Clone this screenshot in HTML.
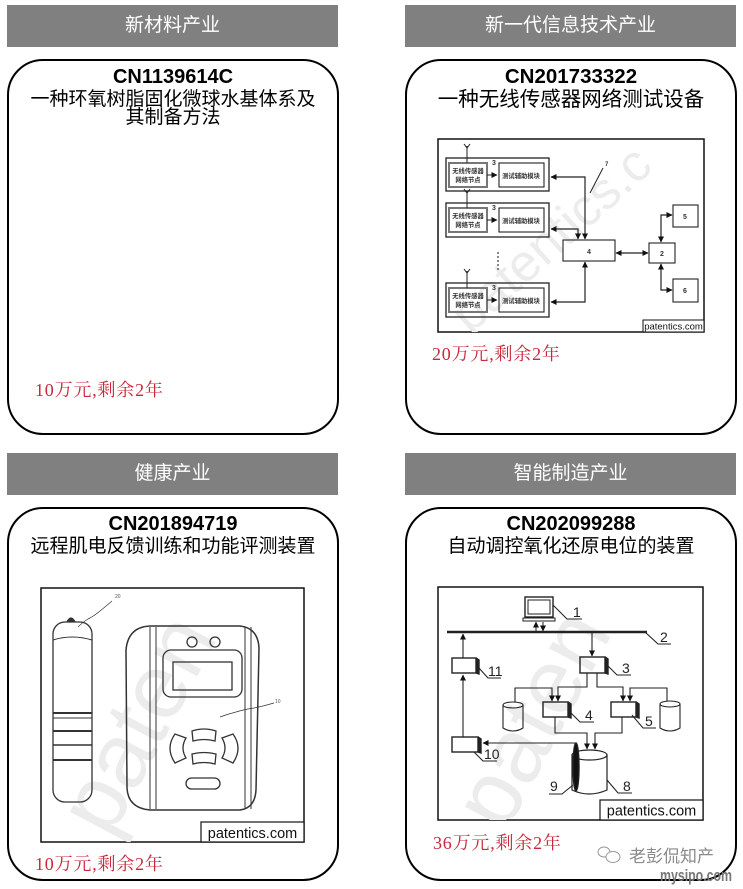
<!DOCTYPE html>
<html><head><meta charset="utf-8">
<style>
html,body{margin:0;padding:0;background:#fff;}
body{width:743px;height:889px;position:relative;overflow:hidden;font-family:"Liberation Sans","Noto Sans CJK SC",sans-serif;}
.hd{position:absolute;height:42px;width:331px;background:#808080;color:#fff;font-size:19px;line-height:42px;text-align:center;font-family:"Liberation Sans","Noto Sans CJK SC",sans-serif;}
.card{position:absolute;width:328px;border:2px solid #000;border-radius:36px;background:#fff;box-sizing:content-box;}
.cn{position:absolute;width:332px;text-align:center;font-weight:bold;font-size:20px;line-height:22px;color:#000;font-family:"Liberation Sans","Noto Sans CJK SC",sans-serif;}
.tt{position:absolute;width:332px;text-align:center;font-size:19px;line-height:18px;color:#000;font-family:"Liberation Sans","Noto Sans CJK SC",sans-serif;}
.pr{position:absolute;font-size:18px;line-height:20px;color:#c8283c;letter-spacing:0.8px;font-family:"Liberation Serif","Noto Serif CJK SC",serif;}
svg{position:absolute;left:0;top:0;}
</style></head><body>

<div class="hd" style="left:7px;top:5px;">新材料产业</div>
<div class="hd" style="left:405px;top:5px;">新一代信息技术产业</div>
<div class="hd" style="left:7px;top:453px;">健康产业</div>
<div class="hd" style="left:405px;top:453px;">智能制造产业</div>

<div class="card" style="left:7px;top:59px;height:372px;"></div>
<div class="card" style="left:405px;top:59px;height:372px;"></div>
<div class="card" style="left:7px;top:507px;height:370px;"></div>
<div class="card" style="left:405px;top:507px;height:370px;"></div>

<div class="cn" style="left:7px;top:66px;">CN1139614C</div>
<div class="tt" style="left:7px;top:91px;">一种环氧树脂固化微球水基体系及<br>其制备方法</div>
<div class="pr" style="left:35px;top:380px;">10万元,剩余2年</div>

<div class="cn" style="left:405px;top:66px;font-size:20.5px;">CN201733322</div>
<div class="tt" style="left:405px;top:90px;font-size:20.5px;line-height:20px;">一种无线传感器网络测试设备</div>
<div class="pr" style="left:432px;top:344px;">20万元,剩余2年</div>

<div class="cn" style="left:7px;top:513px;">CN201894719</div>
<div class="tt" style="left:7px;top:538px;">远程肌电反馈训练和功能评测装置</div>
<div class="pr" style="left:35px;top:854px;">10万元,剩余2年</div>

<div class="cn" style="left:405px;top:513px;">CN202099288</div>
<div class="tt" style="left:405px;top:538px;">自动调控氧化还原电位的装置</div>
<div class="pr" style="left:433px;top:833px;">36万元,剩余2年</div>

<svg width="743" height="889" viewBox="0 0 743 889" xmlns="http://www.w3.org/2000/svg">
<defs>
<marker id="ar" markerWidth="6" markerHeight="6" refX="5.5" refY="3" orient="auto-start-reverse" markerUnits="userSpaceOnUse"><path d="M0,0 L6,3 L0,6 z" fill="#111"/></marker>
<clipPath id="c1"><rect x="438" y="139" width="266" height="193"/></clipPath>
<clipPath id="c2"><rect x="41" y="588" width="263" height="254"/></clipPath>
<clipPath id="c3"><rect x="438" y="587" width="265" height="233"/></clipPath>
</defs>

<!-- ===== Top-right diagram ===== -->
<rect x="438" y="139" width="266" height="193" fill="#fff" stroke="#111" stroke-width="1.5"/>
<g clip-path="url(#c1)">
<text x="0" y="0" transform="translate(470,335) rotate(-42)" font-size="52" font-family="Liberation Sans, sans-serif" fill="#ececec">patentics.c</text>
</g>
<g font-family="Liberation Sans, Noto Sans CJK SC, sans-serif" fill="none" stroke="#222">
  <rect x="446" y="158" width="103" height="33" stroke-width="1.3"/>
  <rect x="449" y="163" width="38" height="24" stroke="#777" stroke-width="2"/>
  <rect x="499" y="163" width="45" height="24" stroke-width="1.1"/>
  <line x1="467" y1="146" x2="467" y2="163" stroke-width="1"/>
  <path d="M464,144 L467,148 L470,144" stroke-width="1"/>
  <line x1="487" y1="175" x2="497" y2="175" stroke-width="1" marker-end="url(#ar)"/>
  <rect x="446" y="203" width="103" height="34" stroke-width="1.3"/>
  <rect x="449" y="208" width="38" height="24" stroke="#777" stroke-width="2"/>
  <rect x="499" y="208" width="45" height="24" stroke-width="1.1"/>
  <line x1="467" y1="191" x2="467" y2="208" stroke-width="1"/>
  <path d="M464,189 L467,193 L470,189" stroke-width="1"/>
  <line x1="487" y1="220" x2="497" y2="220" stroke-width="1" marker-end="url(#ar)"/>
  <rect x="446" y="283" width="103" height="34" stroke-width="1.3"/>
  <rect x="449" y="288" width="38" height="24" stroke="#777" stroke-width="2"/>
  <rect x="499" y="288" width="45" height="24" stroke-width="1.1"/>
  <line x1="467" y1="271" x2="467" y2="288" stroke-width="1"/>
  <path d="M464,269 L467,273 L470,269" stroke-width="1"/>
  <line x1="487" y1="300" x2="497" y2="300" stroke-width="1" marker-end="url(#ar)"/>
  <rect x="563" y="240" width="52" height="21" stroke-width="1.1"/>
  <rect x="649" y="243" width="26" height="20" stroke-width="1.1"/>
  <rect x="673" y="205" width="25" height="22" stroke-width="1.1"/>
  <rect x="673" y="279" width="25" height="23" stroke-width="1.1"/>
  <polyline points="551,177 585,177 585,239" stroke-width="1.2" marker-start="url(#ar)" marker-end="url(#ar)"/>
  <polyline points="551,229 578,229 578,239" stroke-width="1.2" marker-start="url(#ar)" marker-end="url(#ar)"/>
  <polyline points="551,302 585,302 585,262" stroke-width="1.2" marker-start="url(#ar)" marker-end="url(#ar)"/>
  <line x1="616" y1="253" x2="648" y2="253" stroke-width="1.2" marker-start="url(#ar)" marker-end="url(#ar)"/>
  <polyline points="661,242 661,215 672,215" stroke-width="1.2" marker-start="url(#ar)" marker-end="url(#ar)"/>
  <polyline points="661,264 661,290 672,290" stroke-width="1.2" marker-start="url(#ar)" marker-end="url(#ar)"/>
  <line x1="603" y1="168" x2="590" y2="193" stroke-width="1"/>
</g>
<g fill="#333" font-family="Liberation Sans, Noto Sans CJK SC, sans-serif" font-weight="bold">
  <text x="468" y="173" font-size="6.3" text-anchor="middle">无线传感器</text>
  <text x="468" y="182" font-size="6.3" text-anchor="middle">网络节点</text>
  <text x="521" y="178" font-size="6.3" text-anchor="middle">测试辅助模块</text>
  <text x="468" y="218" font-size="6.3" text-anchor="middle">无线传感器</text>
  <text x="468" y="227" font-size="6.3" text-anchor="middle">网络节点</text>
  <text x="521" y="223" font-size="6.3" text-anchor="middle">测试辅助模块</text>
  <text x="468" y="298" font-size="6.3" text-anchor="middle">无线传感器</text>
  <text x="468" y="307" font-size="6.3" text-anchor="middle">网络节点</text>
  <text x="521" y="303" font-size="6.3" text-anchor="middle">测试辅助模块</text>
  <text x="492" y="165" font-size="7">3</text>
  <text x="492" y="210" font-size="7">3</text>
  <text x="492" y="290" font-size="7">3</text>
  <text x="589" y="254" font-size="7" text-anchor="middle">4</text>
  <text x="662" y="256" font-size="7" text-anchor="middle">2</text>
  <text x="685" y="219" font-size="7" text-anchor="middle">5</text>
  <text x="685" y="293" font-size="7" text-anchor="middle">6</text>
  <text x="605" y="166" font-size="6">7</text>
</g>
<g fill="#333">
  <circle cx="498" cy="253" r="0.9"/><circle cx="498" cy="257" r="0.9"/><circle cx="498" cy="261" r="0.9"/><circle cx="498" cy="265" r="0.9"/><circle cx="498" cy="269" r="0.9"/>
</g>
<rect x="643" y="320" width="61" height="12" fill="#fff" stroke="#111" stroke-width="1"/>
<text x="673.5" y="329.5" font-size="9.5" text-anchor="middle" font-family="Liberation Sans, sans-serif" fill="#111">patentics.com</text>

<!-- ===== Bottom-left diagram ===== -->
<rect x="41" y="588" width="263" height="254" fill="#fff" stroke="#111" stroke-width="1.5"/>
<g clip-path="url(#c2)">
<text x="0" y="0" transform="translate(110,840) rotate(-62)" font-size="92" font-family="Liberation Sans, sans-serif" fill="#ececec">paten</text>
</g>
<g fill="none" stroke="#333" stroke-width="1.3">
  <rect x="53" y="622" width="39" height="180" rx="12"/>
  <path d="M53,640 Q72,634 92,640" stroke-width="1"/>
  <line x1="53" y1="713" x2="92" y2="713" stroke-width="2"/>
  <line x1="53" y1="718" x2="92" y2="718" stroke-width="1"/>
  <line x1="53" y1="731" x2="92" y2="731" stroke-width="2"/>
  <line x1="53" y1="745" x2="92" y2="745" stroke-width="1.5"/>
  <line x1="53" y1="760" x2="92" y2="760" stroke-width="2"/>
  <path d="M67,622 Q71,614 75,622" fill="#333"/>
  <path d="M78,627 q5,-5 10,-8 q6,-3 12,-8 q5,-4 12,-10" stroke-width="0.7"/>
  <path d="M150,626 L240,626 Q258,628 259,648 L256,790 Q255,808 240,810 L150,810 Q128,808 127,788 L126,650 Q128,627 150,626 Z" stroke-width="1.5"/>
  <line x1="150" y1="627" x2="150" y2="809" stroke-width="1"/>
  <line x1="156" y1="627" x2="156" y2="809" stroke-width="1"/>
  <line x1="245" y1="627" x2="245" y2="809" stroke-width="1"/>
  <line x1="251" y1="627" x2="251" y2="809" stroke-width="1"/>
  <circle cx="192" cy="642" r="5"/>
  <circle cx="215" cy="642" r="5"/>
  <rect x="163" y="650" width="79" height="47" rx="8"/>
  <rect x="173" y="662" width="59" height="28"/>
  <path d="M192,731 Q204,727 216,731 L215,741 Q204,738 193,741 Z"/>
  <path d="M192,754 Q204,751 216,754 L215,764 Q204,761 193,764 Z"/>
  <path d="M175,734 Q165,748 175,763 L186,758 Q180,748 186,738 Z"/>
  <path d="M233,734 Q243,748 233,763 L222,758 Q228,748 222,738 Z"/>
  <rect x="186" y="778" width="34" height="11" rx="5.5"/>
  <path d="M220,717 q8,-3 16,-5 q10,-3 18,-4 q10,-2 20,-5" stroke-width="0.7"/>
</g>
<text x="115" y="598" font-size="5" fill="#555" font-family="Liberation Sans, sans-serif">20</text>
<text x="275" y="703" font-size="5" fill="#555" font-family="Liberation Sans, sans-serif">10</text>
<rect x="201" y="822" width="103" height="20" fill="#fff" stroke="#111" stroke-width="1.2"/>
<text x="252.5" y="838" font-size="14.5" text-anchor="middle" font-family="Liberation Sans, sans-serif" fill="#111">patentics.com</text>

<!-- ===== Bottom-right diagram ===== -->
<rect x="438" y="587" width="265" height="233" fill="#fff" stroke="#111" stroke-width="1.5"/>
<g clip-path="url(#c3)">
<text x="0" y="0" transform="translate(505,835) rotate(-62)" font-size="92" font-family="Liberation Sans, sans-serif" fill="#ececec">paten</text>
</g>
<g fill="none" stroke="#222" stroke-width="1.4">
  <rect x="525" y="597" width="28" height="20"/>
  <rect x="528" y="600" width="22" height="14" stroke-width="1"/>
  <rect x="523" y="618" width="32" height="3" stroke-width="1"/>
  <path d="M553,605 L567,619 L582,619" stroke-width="1.1"/>
  <line x1="536" y1="631" x2="536" y2="622" stroke-width="1" marker-end="url(#ar)"/>
  <line x1="543" y1="622" x2="543" y2="631" stroke-width="1" marker-end="url(#ar)"/>
  <line x1="447" y1="632" x2="647" y2="632" stroke-width="2.5"/>
  <path d="M645,632 L658,644 L671,644" stroke-width="1.1"/>
  <rect x="452" y="658" width="24" height="15"/>
  <path d="M476,658 L479,660 L479,674 L476,673" fill="#222"/>
  <path d="M478,667 L488,678 L501,678" stroke-width="1.1"/>
  <line x1="463" y1="658" x2="463" y2="634" stroke-width="1.1" marker-end="url(#ar)"/>
  <rect x="452" y="737" width="26" height="15"/>
  <path d="M478,737 L481,739 L481,753 L478,752" fill="#222"/>
  <path d="M474,752 L483,761 L497,761" stroke-width="1.1"/>
  <line x1="463" y1="737" x2="463" y2="675" stroke-width="1.1" marker-end="url(#ar)"/>
  <line x1="576" y1="743" x2="483" y2="743" stroke-width="1.1" marker-end="url(#ar)"/>
  <rect x="580" y="657" width="25" height="16"/>
  <path d="M605,657 L608,659 L608,674 L605,673" fill="#222"/>
  <line x1="592" y1="632" x2="592" y2="656" stroke-width="1.1" marker-end="url(#ar)"/>
  <path d="M606,664 L617,675 L631,675" stroke-width="1.1"/>
  <polyline points="587,673 587,687 558,687 558,701" stroke-width="1.1" marker-end="url(#ar)"/>
  <polyline points="597,673 597,687 623,687 623,701" stroke-width="1.1" marker-end="url(#ar)"/>
  <rect x="543" y="702" width="25" height="15"/>
  <path d="M568,702 L571,704 L571,718 L568,717" fill="#222"/>
  <path d="M569,711 L580,722 L594,722" stroke-width="1.1"/>
  <rect x="611" y="702" width="25" height="15"/>
  <path d="M636,702 L639,704 L639,718 L636,717" fill="#222"/>
  <path d="M632,715 L643,728 L656,728" stroke-width="1.1"/>
  <path d="M503,705 L503,728 Q513,734 523,728 L523,705" stroke-width="1.1"/>
  <ellipse cx="513" cy="705" rx="10" ry="3" stroke-width="1.1"/>
  <path d="M660,704 L660,728 Q670,734 680,728 L680,704" stroke-width="1.1"/>
  <ellipse cx="670" cy="704" rx="10" ry="3" stroke-width="1.1"/>
  <polyline points="515,702 515,688 552,688 552,701" stroke-width="1.1" marker-end="url(#ar)"/>
  <polyline points="667,701 667,688 630,688 630,701" stroke-width="1.1" marker-end="url(#ar)"/>
  <polyline points="555,717 555,733 587,733 587,749" stroke-width="1.1" marker-end="url(#ar)"/>
  <polyline points="622,717 622,733 595,733 595,749" stroke-width="1.1" marker-end="url(#ar)"/>
  <path d="M572,755 L572,790 Q589,798 607,790 L607,755" stroke-width="1.2"/>
  <ellipse cx="589.5" cy="755" rx="17.5" ry="5" stroke-width="1.2"/>
  <ellipse cx="576" cy="767" rx="3" ry="24" fill="#111"/>
  <path d="M573,785 L562,794 L549,794" stroke-width="1.1"/>
  <path d="M607,780 L618,793 L632,793" stroke-width="1.1"/>
</g>
<g fill="#222" font-family="Liberation Sans, sans-serif" font-size="14">
  <text x="573" y="617">1</text>
  <text x="660" y="642">2</text>
  <text x="622" y="673">3</text>
  <text x="585" y="720">4</text>
  <text x="645" y="726">5</text>
  <text x="550" y="791">9</text>
  <text x="623" y="791">8</text>
  <text x="488" y="676">11</text>
  <text x="484" y="759">10</text>
</g>
<rect x="600" y="800" width="103" height="20" fill="#fff" stroke="#111" stroke-width="1.2"/>
<text x="651.5" y="815.5" font-size="14.5" text-anchor="middle" font-family="Liberation Sans, sans-serif" fill="#111">patentics.com</text>

<g fill="none" stroke="#999" stroke-width="1">
  <ellipse cx="604" cy="852" rx="6" ry="5"/>
  <ellipse cx="613" cy="857" rx="7" ry="5.5" fill="#fff"/>
</g>
<text x="629" y="862" font-size="17" fill="#8a8a8a" font-family="Liberation Sans, Noto Sans CJK SC, sans-serif">老彭侃知产</text>
<text x="660" y="881" font-size="17" font-weight="bold" fill="#777" font-family="Liberation Sans Narrow, Liberation Sans, sans-serif" textLength="72" lengthAdjust="spacingAndGlyphs">mysipo.com</text>
</svg>
</body></html>
